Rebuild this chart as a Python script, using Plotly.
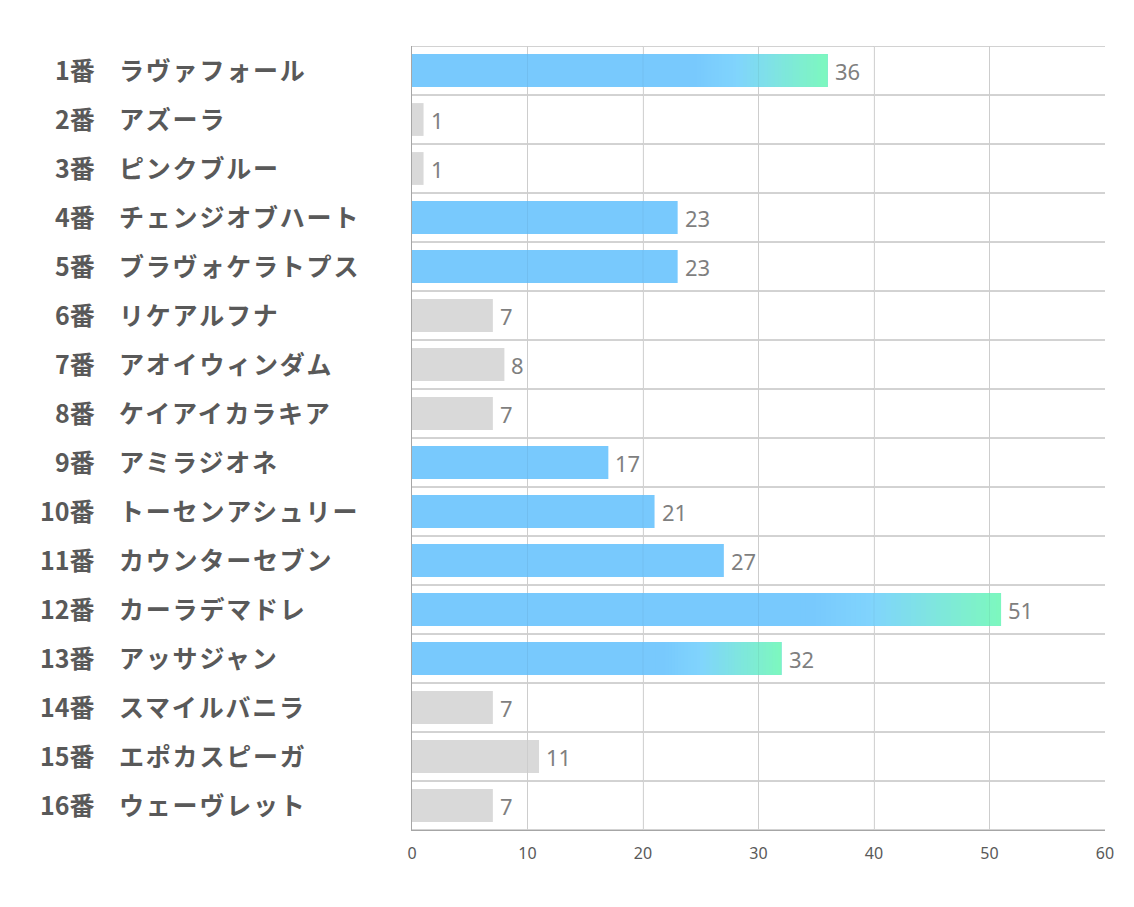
import plotly.graph_objects as go

numbers = ["1番", "2番", "3番", "4番", "5番", "6番", "7番", "8番",
           "9番", "10番", "11番", "12番", "13番", "14番", "15番", "16番"]
horses = ["ラヴァフォール", "アズーラ", "ピンクブルー", "チェンジオブハート", "ブラヴォケラトプス",
          "リケアルフナ", "アオイウィンダム", "ケイアイカラキア", "アミラジオネ",
          "トーセンアシュリー", "カウンターセブン", "カーラデマドレ", "アッサジャン",
          "スマイルバニラ", "エポカスピーガ", "ウェーヴレット"]
values = [36, 1, 1, 23, 23, 7, 8, 7, 17, 21, 27, 51, 32, 7, 11, 7]
x_ticks = [0, 10, 20, 30, 40, 50, 60]

cats = [f"{n}　{h}" for n, h in zip(numbers, horses)]

GRAY = "#D9D9D9"
BLUE = "#78C9FD"
top3 = sorted(values, reverse=True)[:3]
is_grad = [v in top3 for v in values]
base_colors = [GRAY if v < 15 else BLUE for v in values]

# gradient stops (fraction of bar length, rgb)
stops = [(0.0, (120, 201, 253)), (0.68, (120, 201, 253)), (0.78, (128, 212, 253)), (1.0, (125, 248, 190))]


def grad_color(f):
    for (f0, c0), (f1, c1) in zip(stops[:-1], stops[1:]):
        if f0 <= f <= f1:
            t = 0 if f1 == f0 else (f - f0) / (f1 - f0)
            c = [round(a + (b - a) * t) for a, b in zip(c0, c1)]
            return f"rgb({c[0]},{c[1]},{c[2]})"
    c = stops[-1][1]
    return f"rgb({c[0]},{c[1]},{c[2]})"


fig = go.Figure()
fig.add_trace(go.Bar(
    x=values, y=cats, orientation="h",
    marker=dict(color=base_colors, line=dict(width=0)),
    hoverinfo="skip", showlegend=False,
))

N = 40
g_idx = [i for i, g in enumerate(is_grad) if g]
start_f = 0.66
for k in range(N):
    xs, bases, ys, cols = [], [], [], []
    for i in g_idx:
        v = values[i]
        s = v * start_f
        seg = v * (1 - start_f) / N
        b = s + k * seg
        w = min(seg * 1.6, v - b)
        fmid = (b + seg / 2) / v
        xs.append(w)
        bases.append(b)
        ys.append(cats[i])
        cols.append(grad_color(fmid))
    fig.add_trace(go.Bar(
        x=xs, base=bases, y=ys, orientation="h",
        marker=dict(color=cols, line=dict(width=0)),
        hoverinfo="skip", showlegend=False,
    ))

shapes = []
# row separators
for k in range(len(cats) + 1):
    shapes.append(dict(type="line", xref="paper", x0=0, x1=1, yref="y",
                       y0=k - 0.5, y1=k - 0.5, line=dict(color="#A6A6A6", width=1), layer="below"))
# faint gridlines showing through the bars
for t in x_ticks[1:-1]:
    shapes.append(dict(type="line", xref="x", x0=t, x1=t, yref="paper", y0=0, y1=1,
                       line=dict(color="rgba(0,0,0,0.05)", width=1), layer="above"))

annotations = []
L, R = 412, 1105
W = R - L
label_font = dict(family="Noto Sans CJK JP", size=25, color="#595959", weight="bold")
for n, h, c in zip(numbers, horses, cats):
    annotations.append(dict(x=(97 - L) / W, xref="paper", y=c, yref="y", text=n,
                            showarrow=False, xanchor="right", yanchor="middle", yshift=2,
                            font=label_font))
    annotations.append(dict(x=(117 - L) / W, xref="paper", y=c, yref="y",
                            text=f'<span style="letter-spacing:1.8px">{h}</span>',
                            showarrow=False, xanchor="left", yanchor="middle", yshift=2,
                            font=label_font))
for v, c in zip(values, cats):
    annotations.append(dict(x=v, xref="x", y=c, yref="y", text=str(v), showarrow=False,
                            xanchor="left", yanchor="middle", xshift=5,
                            font=dict(family="Noto Sans, Open Sans, sans-serif", size=22, color="#7F7F7F")))

fig.update_layout(
    width=1134, height=907,
    margin=dict(l=412, r=29, t=46, b=77, pad=0),
    paper_bgcolor="white", plot_bgcolor="white",
    barmode="overlay", bargap=0.33,
    shapes=shapes, annotations=annotations,
    xaxis=dict(range=[0, 60], tickvals=x_ticks, ticktext=[str(t) for t in x_ticks],
               showgrid=True, gridcolor="#D9D9D9", gridwidth=1, zeroline=False,
               showline=True, linecolor="#A6A6A6", mirror=False,
               ticks="outside", ticklen=9, tickcolor="rgba(0,0,0,0)",
               tickfont=dict(family="Noto Sans, Open Sans, sans-serif", size=16, color="#595959"),
               fixedrange=True),
    yaxis=dict(type="category", categoryarray=cats, range=[len(cats) - 0.5, -0.5],
               showticklabels=False, showgrid=False, zeroline=False,
               showline=True, linecolor="#A6A6A6", fixedrange=True),
)

fig.write_html("out.html")
